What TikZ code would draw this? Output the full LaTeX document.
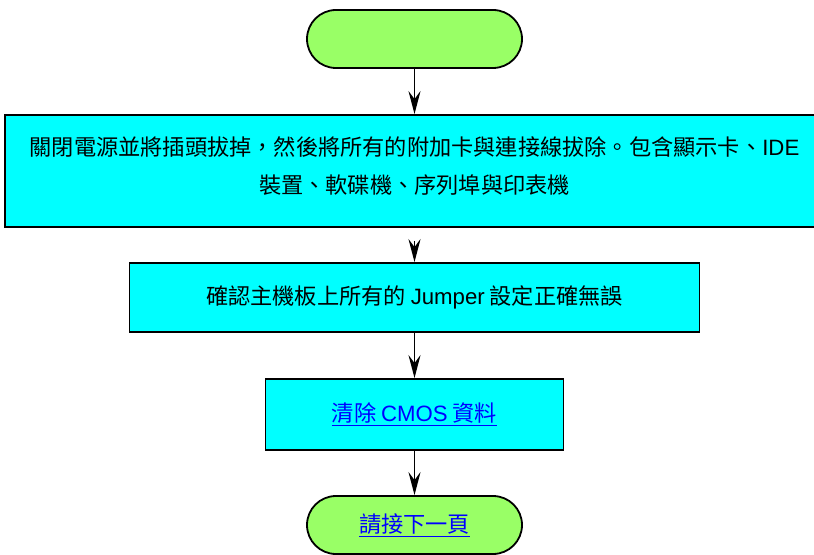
\documentclass[tikz,border=0pt]{standalone}
\usepackage{fontspec}
\setmainfont{Noto Sans CJK TC}
\newfontfamily\lat{Liberation Sans}
\usetikzlibrary{arrows.meta}
\definecolor{termgreen}{HTML}{99FF66}
\definecolor{boxcyan}{HTML}{00FFFF}
\definecolor{linkblue}{HTML}{0000FF}
\tikzset{
  term/.style={draw=black, line width=1.8bp, fill=termgreen, rounded corners=29bp,
    minimum width=215bp, minimum height=58bp, inner sep=0pt},
  procbox/.style={draw=black, line width=1.8bp, fill=boxcyan, inner sep=0pt, align=center,
    font=\fontsize{22.2bp}{38bp}\selectfont},
  boxtext/.style={inner sep=0pt, align=center, font=\fontsize{22.2bp}{38bp}\selectfont},
  linktext/.style={text=linkblue},
  flow/.style={draw=black, line width=1.8bp, -{Stealth[length=23bp,width=12bp,inset=8bp]}},
}
\newcommand{\ulink}[1]{\underline{#1}}
\begin{document}
\begin{tikzpicture}[x=1bp,y=-1bp]
\useasboundingbox (0,0) rectangle (814,555);
\clip (0,0) rectangle (814,555);

\node[term] (start) at (414.5,39) {};

\node[procbox, minimum width=819bp, minimum height=112bp] (b1) at (414.5,171) {};
\node[boxtext] (b1text) at (414.5,166.5)
  {關閉電源並將插頭拔掉，然後將所有的附加卡與連接線拔除。包含顯示卡、{\lat IDE}\\
   裝置、軟碟機、序列埠與印表機};

\node[procbox, minimum width=570bp, minimum height=69bp] (b2) at (414.5,297.5)
  {確認主機板上所有的 {\lat Jumper} 設定正確無誤};

\node[procbox, minimum width=298bp, minimum height=71bp, linktext] (b3) at (414.5,414.5)
  {\ulink{清除 {\lat CMOS} 資料}};

\node[term, linktext, font=\fontsize{22.2bp}{26bp}\selectfont] (end) at (414.5,525)
  {\ulink{請接下一頁}};

\draw[flow] (start) -- (b1);
\draw[flow, shorten <=13bp] (b1) -- (b2);
\draw[flow] (b2) -- (b3);
\draw[flow] (b3) -- (end);
\end{tikzpicture}
\end{document}
